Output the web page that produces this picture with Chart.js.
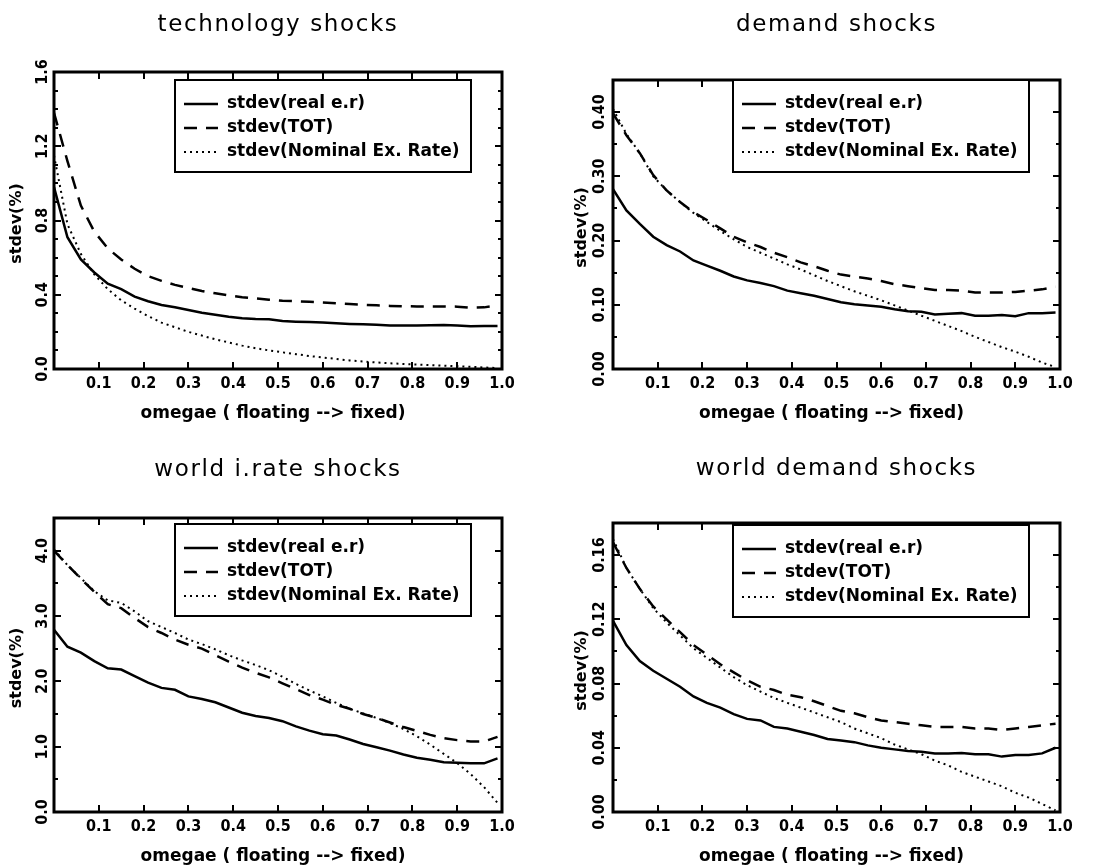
<!DOCTYPE html>
<html lang="en">
<head>
    <meta charset="UTF-8">
    <title>stdev vs omegae</title>
    <style>
        body {
            margin: 0;
            padding: 0;
            background-color: #fff;
            width: 1100px;
            height: 867px;
            position: relative;
            overflow: hidden;
        }
        .panel {
            position: absolute;
        }
    </style>
</head>
<body>
    <div class="panel" style="left:0;top:0"><canvas id="techChart" width="550" height="433"></canvas></div>
    <div class="panel" style="left:550px;top:0"><canvas id="demandChart" width="550" height="433"></canvas></div>
    <div class="panel" style="left:0;top:433px"><canvas id="rateChart" width="550" height="434"></canvas></div>
    <div class="panel" style="left:550px;top:433px"><canvas id="worldChart" width="550" height="434"></canvas></div>

    <script src="https://cdn.jsdelivr.net/npm/chart.js"></script>
    <script>
        // omegae grid (floating --> fixed)
        const omega = [0.00, 0.03, 0.06, 0.09, 0.12, 0.15, 0.18, 0.21, 0.24, 0.27, 0.30, 0.33,
                       0.36, 0.39, 0.42, 0.45, 0.48, 0.51, 0.54, 0.57, 0.60, 0.63, 0.66, 0.69,
                       0.72, 0.75, 0.78, 0.81, 0.84, 0.87, 0.90, 0.93, 0.96, 0.99];

        const seriesNames = ['stdev(real e.r)', 'stdev(TOT)', 'stdev(Nominal Ex. Rate)'];
        const xTickLabels = ['0.1', '0.2', '0.3', '0.4', '0.5', '0.6', '0.7', '0.8', '0.9', '1.0'];
        const xAxisTitle = 'omegae ( floating --> fixed)';
        const yAxisTitle = 'stdev(%)';

        // technology shocks
        const techReal = [0.98, 0.71, 0.59, 0.52, 0.46, 0.43, 0.39, 0.365, 0.345, 0.333, 0.318, 0.303,
                          0.292, 0.282, 0.274, 0.270, 0.268, 0.258, 0.255, 0.253, 0.250, 0.246, 0.243, 0.241,
                          0.238, 0.235, 0.234, 0.234, 0.236, 0.237, 0.234, 0.230, 0.231, 0.232];
        const techTot = [1.38, 1.12, 0.88, 0.74, 0.65, 0.59, 0.54, 0.50, 0.475, 0.453, 0.436, 0.420,
                         0.408, 0.397, 0.387, 0.380, 0.373, 0.368, 0.365, 0.362, 0.358, 0.354, 0.350, 0.346,
                         0.343, 0.340, 0.338, 0.337, 0.337, 0.337, 0.336, 0.330, 0.332, 0.342];
        const techNom = [1.15, 0.78, 0.62, 0.51, 0.43, 0.37, 0.325, 0.285, 0.250, 0.225, 0.200, 0.180,
                         0.160, 0.143, 0.126, 0.112, 0.100, 0.090, 0.080, 0.070, 0.062, 0.054, 0.046, 0.040,
                         0.035, 0.031, 0.027, 0.024, 0.021, 0.018, 0.015, 0.012, 0.008, 0.005];
        const techYTicks = ['0.0', '0.4', '0.8', '1.2', '1.6'];

        // demand shocks
        const demandReal = [0.280, 0.247, 0.226, 0.206, 0.193, 0.183, 0.169, 0.161, 0.153, 0.144, 0.138, 0.134,
                            0.129, 0.122, 0.118, 0.114, 0.109, 0.104, 0.101, 0.099, 0.097, 0.093, 0.090, 0.089,
                            0.085, 0.086, 0.087, 0.083, 0.083, 0.084, 0.082, 0.087, 0.087, 0.088];
        const demandTot = [0.398, 0.364, 0.336, 0.302, 0.278, 0.260, 0.244, 0.232, 0.219, 0.206, 0.197, 0.190,
                           0.181, 0.174, 0.166, 0.160, 0.153, 0.147, 0.144, 0.141, 0.137, 0.132, 0.129, 0.126,
                           0.123, 0.123, 0.122, 0.119, 0.119, 0.119, 0.120, 0.122, 0.124, 0.128];
        const demandNom = [0.405, 0.366, 0.336, 0.300, 0.278, 0.260, 0.243, 0.229, 0.215, 0.202, 0.190, 0.181,
                           0.172, 0.163, 0.155, 0.146, 0.137, 0.129, 0.121, 0.114, 0.107, 0.099, 0.091, 0.083,
                           0.075, 0.067, 0.059, 0.050, 0.042, 0.034, 0.027, 0.019, 0.010, 0.003];
        const demandYTicks = ['0.00', '0.10', '0.20', '0.30', '0.40'];

        // world i.rate shocks
        const rateReal = [2.79, 2.53, 2.44, 2.31, 2.20, 2.18, 2.08, 1.98, 1.90, 1.87, 1.77, 1.73,
                          1.68, 1.60, 1.52, 1.47, 1.44, 1.39, 1.31, 1.245, 1.19, 1.17, 1.11, 1.04,
                          0.99, 0.94, 0.88, 0.83, 0.80, 0.76, 0.755, 0.745, 0.745, 0.82];
        const rateTot = [4.00, 3.78, 3.57, 3.37, 3.18, 3.12, 2.97, 2.83, 2.74, 2.64, 2.56, 2.50,
                         2.40, 2.30, 2.21, 2.13, 2.06, 1.97, 1.88, 1.79, 1.72, 1.64, 1.58, 1.50,
                         1.44, 1.37, 1.30, 1.24, 1.18, 1.13, 1.10, 1.08, 1.08, 1.15];
        const rateNom = [4.02, 3.78, 3.58, 3.38, 3.24, 3.20, 3.07, 2.92, 2.83, 2.74, 2.64, 2.57,
                         2.49, 2.40, 2.32, 2.25, 2.17, 2.07, 1.96, 1.86, 1.77, 1.67, 1.58, 1.51,
                         1.44, 1.36, 1.27, 1.16, 1.03, 0.89, 0.75, 0.58, 0.38, 0.14];
        const rateYTicks = ['0.0', '1.0', '2.0', '3.0', '4.0'];

        // world demand shocks
        const worldReal = [0.119, 0.104, 0.094, 0.088, 0.083, 0.078, 0.072, 0.068, 0.065, 0.061, 0.058, 0.057,
                           0.053, 0.052, 0.050, 0.048, 0.0455, 0.0445, 0.0435, 0.0415, 0.040, 0.039, 0.038, 0.0375,
                           0.0365, 0.0365, 0.0367, 0.036, 0.036, 0.0345, 0.0355, 0.0355, 0.0365, 0.040];
        const worldTot = [0.168, 0.152, 0.139, 0.128, 0.120, 0.112, 0.104, 0.098, 0.092, 0.087, 0.082, 0.078,
                          0.076, 0.073, 0.0715, 0.069, 0.066, 0.063, 0.0615, 0.059, 0.057, 0.056, 0.055, 0.054,
                          0.053, 0.053, 0.053, 0.052, 0.052, 0.051, 0.052, 0.053, 0.054, 0.055];
        const worldNom = [0.170, 0.152, 0.139, 0.127, 0.118, 0.110, 0.102, 0.096, 0.090, 0.084, 0.079, 0.075,
                          0.071, 0.068, 0.065, 0.062, 0.059, 0.056, 0.052, 0.049, 0.046, 0.042, 0.039, 0.036,
                          0.032, 0.029, 0.025, 0.022, 0.019, 0.016, 0.012, 0.009, 0.005, 0.001];
        const worldYTicks = ['0.00', '0.04', '0.08', '0.12', '0.16'];

        const TITLE_FONT = "23px 'DejaVu Sans', sans-serif";
        const LABEL_FONT = "bold 17px 'DejaVu Sans', sans-serif";
        const YTITLE_FONT = "bold 16px 'DejaVu Sans', sans-serif";
        const TICK_FONT = "bold 16px 'DejaVu Sans Condensed', 'DejaVu Sans', sans-serif";
        const DASHES = [[], [13, 9], [2, 4]];
        const WIDTHS = [2.5, 2.5, 2];

        // IDL-style frame: boxed axes with inward ticks, rotated y labels, boxed legend
        const idlFrame = {
            id: 'idlFrame',
            afterDatasetsDraw(chart, args, opts) {
                const ctx = chart.ctx;
                const a = chart.chartArea;
                const xs = chart.scales.x;
                const ys = chart.scales.y;
                const yMajor = opts.yTicks.map(parseFloat);
                ctx.save();
                ctx.strokeStyle = '#000';
                ctx.fillStyle = '#000';

                // ticks on all four sides
                ctx.lineWidth = 2;
                ctx.beginPath();
                xs.ticks.forEach(t => {
                    const px = Math.round(xs.getPixelForValue(t.value));
                    const major = Math.abs(t.value * 10 - Math.round(t.value * 10)) < 1e-6;
                    const len = major ? 7 : 4;
                    ctx.moveTo(px, a.bottom); ctx.lineTo(px, a.bottom - len);
                    ctx.moveTo(px, a.top); ctx.lineTo(px, a.top + len);
                });
                ys.ticks.forEach(t => {
                    const py = Math.round(ys.getPixelForValue(t.value));
                    const major = yMajor.some(v => Math.abs(v - t.value) < 1e-9);
                    const len = major ? 7 : 4;
                    ctx.moveTo(a.left, py); ctx.lineTo(a.left + len, py);
                    ctx.moveTo(a.right, py); ctx.lineTo(a.right - len, py);
                });
                ctx.stroke();

                // frame
                ctx.lineWidth = 3;
                ctx.strokeRect(a.left, a.top, a.right - a.left, a.bottom - a.top);

                // x tick labels and title
                ctx.font = TICK_FONT;
                ctx.textAlign = 'center';
                ctx.textBaseline = 'middle';
                xTickLabels.forEach(lbl => {
                    ctx.fillText(lbl, xs.getPixelForValue(parseFloat(lbl)), a.bottom + 15);
                });
                ctx.font = LABEL_FONT;
                ctx.fillText(xAxisTitle, (a.left + a.right) / 2 - 5, a.bottom + 45);

                // y tick labels, rotated
                ctx.font = TICK_FONT;
                opts.yTicks.forEach(lbl => {
                    ctx.save();
                    ctx.translate(a.left - opts.yLabelOff, ys.getPixelForValue(parseFloat(lbl)));
                    ctx.rotate(-Math.PI / 2);
                    ctx.fillText(lbl, 0, 0);
                    ctx.restore();
                });
                ctx.save();
                ctx.font = YTITLE_FONT;
                ctx.translate(a.left - opts.yTitleOff, (a.top + a.bottom) / 2 + 3);
                ctx.rotate(-Math.PI / 2);
                ctx.fillText(yAxisTitle, 0, 0);
                ctx.restore();

                // panel title
                ctx.save();
                ctx.font = TITLE_FONT;
                if ('letterSpacing' in ctx) ctx.letterSpacing = '1.6px';
                ctx.fillText(opts.title, (a.left + a.right) / 2, opts.titleY);
                ctx.restore();

                // legend
                const lw = 296, lh = 92;
                const lx = a.right - 31 - lw;
                const ly = opts.legendTop;
                ctx.fillStyle = '#fff';
                ctx.fillRect(lx, ly, lw, lh);
                ctx.fillStyle = '#000';
                ctx.lineWidth = 2;
                ctx.strokeRect(lx, ly, lw, lh);
                ctx.font = LABEL_FONT;
                ctx.textAlign = 'left';
                seriesNames.forEach((name, i) => {
                    const ry = ly + 24 + i * 24;
                    ctx.save();
                    ctx.lineWidth = WIDTHS[i];
                    ctx.setLineDash(DASHES[i]);
                    ctx.beginPath();
                    ctx.moveTo(lx + 9, ry);
                    ctx.lineTo(lx + 43, ry);
                    ctx.stroke();
                    ctx.restore();
                    ctx.fillText(name, lx + 52, ry);
                });
                ctx.restore();
            }
        };

        function makeSet(values, i) {
            return {
                label: seriesNames[i],
                data: omega.map((x, k) => ({ x: x, y: values[k] })),
                borderColor: '#000',
                borderWidth: WIDTHS[i],
                borderDash: DASHES[i],
                pointRadius: 0,
                tension: 0,
                fill: false
            };
        }

        function createChart(id, title, series, yMax, yMinor, yTicks, layout) {
            const ctx = document.getElementById(id).getContext('2d');
            return new Chart(ctx, {
                type: 'line',
                data: {
                    datasets: series.map((s, i) => makeSet(s, i))
                },
                options: {
                    responsive: false,
                    animation: false,
                    devicePixelRatio: 1,
                    layout: { padding: layout.padding },
                    scales: {
                        x: { type: 'linear', min: 0, max: 1, display: false, ticks: { stepSize: 0.05 } },
                        y: { type: 'linear', min: 0, max: yMax, display: false, ticks: { stepSize: yMinor } }
                    },
                    plugins: {
                        legend: { display: false },
                        tooltip: { enabled: false },
                        idlFrame: {
                            title: title,
                            yTicks: yTicks,
                            titleY: layout.titleY,
                            legendTop: layout.legendTop,
                            yLabelOff: layout.yLabelOff,
                            yTitleOff: layout.yTitleOff
                        }
                    }
                },
                plugins: [idlFrame]
            });
        }

        document.addEventListener('DOMContentLoaded', () => {
            createChart('techChart', 'technology shocks', [techReal, techTot, techNom], 1.6, 0.1, techYTicks,
                { padding: { left: 54, top: 72, right: 48, bottom: 64 }, titleY: 25, legendTop: 80, yLabelOff: 11, yTitleOff: 37 });
            createChart('demandChart', 'demand shocks', [demandReal, demandTot, demandNom], 0.45, 0.05, demandYTicks,
                { padding: { left: 63, top: 80, right: 40, bottom: 64 }, titleY: 25, legendTop: 80, yLabelOff: 13, yTitleOff: 31 });
            createChart('rateChart', 'world i.rate shocks', [rateReal, rateTot, rateNom], 4.5, 0.5, rateYTicks,
                { padding: { left: 54, top: 85, right: 48, bottom: 55 }, titleY: 37, legendTop: 91, yLabelOff: 11, yTitleOff: 37 });
            createChart('worldChart', 'world demand shocks', [worldReal, worldTot, worldNom], 0.18, 0.01, worldYTicks,
                { padding: { left: 63, top: 90, right: 40, bottom: 55 }, titleY: 36, legendTop: 92, yLabelOff: 13, yTitleOff: 31 });
        });
    </script>
</body>
</html>
